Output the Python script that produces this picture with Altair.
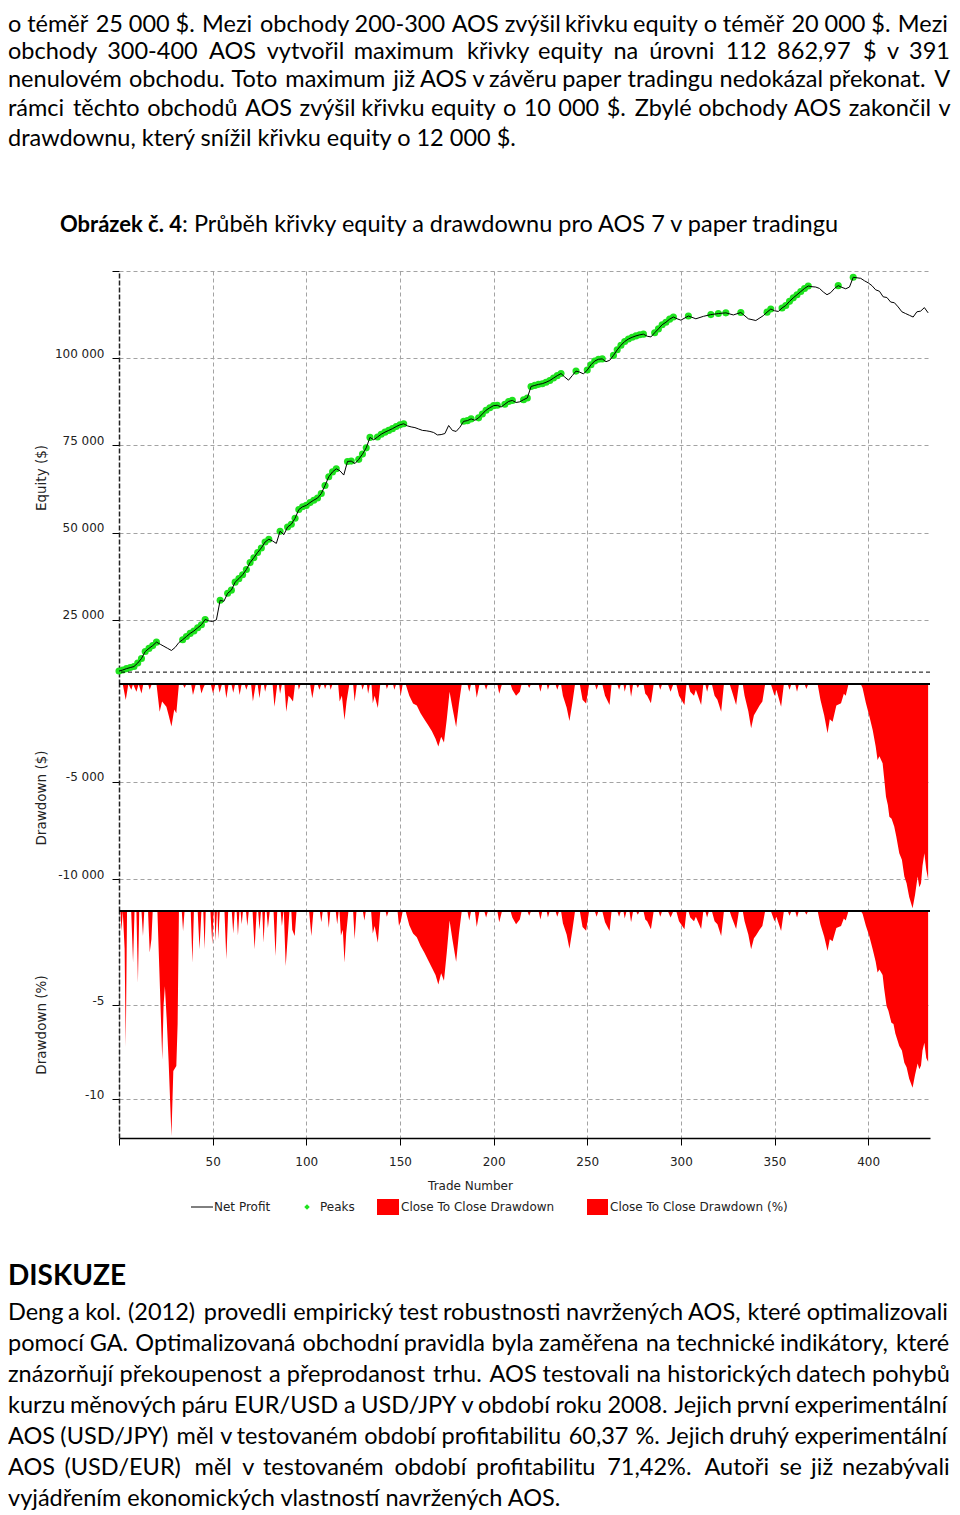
import unicodedata
import altair as alt
import pandas as pd

# ---------------- values ----------------
# equity (net profit incl. 10 000 $ start), (trade number, thousands of $)
equity_points = [
    (0, 10.3), (2, 10.6), (4, 11.0), (6, 11.3), (8, 11.6), (10, 12.6), (12, 13.9), (14, 15.9), (16, 16.8),
    (18, 17.6), (20, 18.6), (22, 18.0), (24, 17.4), (26, 16.8), (28, 16.2), (30, 17.1), (32, 18.5), (34, 19.3),
    (36, 20.2), (38, 21.1), (40, 21.8), (42, 22.7), (44, 23.6), (46, 25.1), (48, 24.7), (50, 24.5), (52, 25.0),
    (54, 30.6), (56, 30.3), (58, 32.6), (60, 33.5), (62, 35.8), (64, 36.8), (66, 37.9), (68, 39.4), (70, 41.4),
    (72, 42.8), (74, 44.3), (76, 45.6), (78, 47.3), (80, 48.1), (82, 47.6), (84, 46.9), (86, 50.4), (88, 49.4),
    (90, 51.6), (92, 52.4), (94, 54.1), (96, 56.6), (98, 57.4), (100, 57.8), (102, 58.6), (104, 59.3), (106, 59.9),
    (108, 61.2), (110, 63.5), (112, 66.0), (114, 67.4), (116, 68.3), (118, 67.7), (120, 66.5), (122, 70.4),
    (124, 70.5), (126, 69.8), (128, 71.0), (130, 72.5), (132, 74.3), (134, 77.3), (136, 76.6), (138, 77.4),
    (140, 78.2), (142, 78.8), (144, 79.3), (146, 79.8), (148, 80.4), (150, 80.9), (152, 81.2), (154, 80.6),
    (156, 80.3), (158, 80.1), (160, 79.7), (162, 79.3), (164, 79.2), (166, 79.0), (168, 78.7), (170, 78.0),
    (172, 78.1), (174, 78.4), (176, 80.7), (178, 79.3), (180, 79.0), (182, 80.2), (184, 81.9), (186, 82.1),
    (188, 82.6), (190, 82.2), (192, 82.9), (194, 84.0), (196, 85.1), (198, 85.8), (200, 86.4), (202, 86.5),
    (204, 86.0), (206, 86.8), (208, 87.6), (210, 87.9), (212, 87.3), (214, 87.5), (216, 88.1), (218, 88.6),
    (220, 91.9), (222, 92.2), (224, 92.5), (226, 92.7), (228, 93.1), (230, 93.6), (232, 94.3), (234, 95.0),
    (236, 95.6), (238, 94.6), (240, 93.7), (242, 95.0), (244, 96.3), (246, 96.0), (248, 95.5), (250, 96.6),
    (252, 98.1), (254, 99.2), (256, 99.7), (258, 99.8), (260, 99.0), (262, 99.4), (264, 100.8), (266, 102.4),
    (268, 103.7), (270, 104.8), (272, 105.5), (274, 106.0), (276, 106.4), (278, 106.7), (280, 106.9), (282, 106.3),
    (284, 106.1), (286, 107.3), (288, 108.4), (290, 109.6), (292, 110.3), (294, 111.2), (296, 111.8), (298, 111.3),
    (300, 110.9), (304, 112.1), (308, 111.3), (312, 112.0), (316, 112.5), (320, 112.8), (324, 113.0), (328, 112.4),
    (332, 113.1), (336, 111.3), (340, 110.8), (344, 112.2), (346, 113.2), (348, 114.1), (350, 113.6), (352, 113.4),
    (354, 114.4), (356, 115.1), (358, 116.3), (360, 117.3), (362, 118.2), (364, 119.1), (366, 120.0), (368, 120.7),
    (370, 120.5), (372, 120.4), (374, 120.0), (376, 119.0), (378, 118.2), (380, 118.8), (382, 120.0), (384, 120.8),
    (386, 120.3), (388, 119.9), (390, 120.4), (392, 123.2), (396, 122.9), (398, 122.2), (400, 121.6), (402, 120.8),
    (404, 119.6), (406, 119.2), (408, 117.6), (410, 117.4), (412, 116.1), (414, 115.9), (416, 114.7), (418, 113.3),
    (420, 112.8), (422, 112.3), (424, 111.8), (426, 113.3), (428, 113.5), (430, 114.5), (432, 113.0),
]

# close to close drawdown, (trade number, thousands of $)
drawdown_usd_points = [
    (0, 0), (2, 0), (3.6, -0.82), (5, 0), (6.6, -0.3), (7.5, 0), (9.3, -0.4), (10.5, 0), (12, -0.48), (13, 0),
    (15.5, 0), (16.4, -0.3), (17.5, 0), (20, 0), (21.7, -1.42), (23, -0.9), (25.3, -1.16), (26.5, -1.6), (28, -2.18),
    (29.5, -1.3), (30.6, -1.5), (32, 0), (34, 0), (35, -0.2), (36, 0), (38.5, 0), (39.5, -0.56), (41, 0), (43, 0),
    (44, -0.48), (45, -0.2), (46, 0), (49, 0), (50.2, -0.48), (51.5, 0), (52.8, 0), (53.7, -0.45), (55, 0), (56.3, 0),
    (57.3, -0.73), (58.5, 0), (60, 0), (61, -0.45), (62, 0), (63.5, 0), (64.4, -0.56), (65.5, 0), (67, 0), (68, -0.3),
    (69, 0), (70.5, 0), (71.5, -0.9), (73, 0), (74, 0), (75, -0.73), (76, 0), (77.3, 0), (78, -0.4), (79, 0), (82, 0),
    (83, -1.16), (84.5, 0), (85.3, 0), (86, -0.5), (87, 0), (88.3, 0), (89.3, -1.42), (90.5, -0.6), (91.5, -0.7),
    (92.9, -0.9), (94, 0), (95.5, 0), (96, -0.3), (97, 0), (102, 0), (103.2, -0.73), (104.5, 0), (106, 0), (107, -0.3),
    (108, 0), (109.3, 0), (110, -0.25), (111, 0), (112.3, 0), (113, -0.3), (114, 0), (117, 0), (117.8, -0.9),
    (119, -0.6), (120.4, -1.84), (121.5, -0.9), (123, 0), (125, 0), (125.8, -0.9), (127, 0), (129.3, 0), (130, -0.3),
    (131, 0), (132.3, 0), (133, -0.5), (134, 0), (134.8, 0), (135.5, -0.99), (136.5, -0.6), (138.2, -1.23), (139.5, 0),
    (142.3, 0), (143, -0.25), (144, 0), (146.3, 0), (147, -0.3), (148, 0), (149.6, 0), (150.4, -0.6), (151.5, 0),
    (153, 0), (155, -0.6), (157, -1.0), (159, -1.1), (161, -1.5), (163, -1.8), (165, -2.1), (167, -2.4), (169, -2.8),
    (170.5, -3.2), (172, -2.7), (173.5, -3.0), (175, -1.8), (176.5, -0.4), (178, -1.2), (180, -2.2), (181.5, -1.0),
    (183, 0), (186, 0), (187, -0.4), (188, 0), (190, 0), (191, -0.7), (192.5, 0), (195, 0), (196, -0.3), (197, 0),
    (202, 0), (203, -0.5), (204.5, 0), (209, 0), (210, -0.3), (212, -0.6), (214, -0.4), (215, 0), (218, 0),
    (219, -0.2), (220, 0), (224, 0), (225, -0.4), (226, 0), (228.3, 0), (229, -0.3), (230, 0), (233, 0), (234, -0.3),
    (235, 0), (236, 0), (237, -0.6), (239, -1.2), (240.5, -1.9), (242, -1.0), (243.5, 0), (246, 0), (247.5, -0.8),
    (249.4, -1.0), (251, 0), (254, 0), (255, -0.3), (256, 0), (258, 0), (259.5, -0.6), (261.9, -1.07), (263, 0),
    (266, 0), (267, -0.3), (268, 0), (269.3, 0), (270, -0.4), (271, 0), (272.5, 0), (273.4, -0.65), (274.5, 0),
    (276, 0), (277, -0.2), (278, 0), (280, 0), (281, -0.5), (282, -0.6), (284, -0.99), (285.5, 0), (288, 0),
    (289, -0.3), (290, 0), (293, 0), (294.5, -0.4), (296, 0), (297.5, 0), (299, -0.6), (301.9, -1.07), (303, 0),
    (304, 0), (305, -0.4), (307, -0.6), (308, -0.3), (310.8, -1.07), (312, 0), (313, 0), (314, -0.4), (315, 0),
    (316.5, 0), (318, -0.6), (319.5, -0.8), (321.5, -1.42), (323, 0), (326, 0), (327, -0.3), (329.5, -1.07), (331, 0),
    (333, 0), (334, -0.6), (336, -1.4), (337.5, -2.27), (339, -1.6), (340.1, -1.42), (342, -1.1), (343.5, -0.9),
    (345, 0), (348, 0), (350, -0.6), (351, -0.3), (353.5, -1.16), (355, 0), (357, 0), (358, -0.3), (359, 0), (361, 0),
    (362, -0.4), (363, 0), (366, 0), (367, -0.25), (368, 0), (373, 0), (374.5, -0.8), (376.5, -1.6), (378.3, -2.52),
    (379.5, -1.8), (381, -1.93), (383, -1.1), (385.5, -0.99), (387, -0.5), (388, -0.6), (389.5, 0), (396, 0),
    (397, -0.2), (398.8, -0.99), (400.5, -1.6), (402.4, -2.35), (404, -3.2), (405, -3.89), (406, -3.7), (407.7, -4.06),
    (408.5, -4.8), (409.5, -5.77), (410.5, -6.2), (411.3, -6.79), (412.5, -6.9), (413.9, -7.3), (415, -7.8),
    (416.6, -8.66), (418, -9.0), (419.3, -9.86), (420.5, -10.2), (421.9, -10.9), (423.7, -11.48), (425, -10.8),
    (426.4, -9.86), (427.3, -10.4), (428.2, -10.2), (429, -9.3), (430, -8.66), (431, -9.5), (432, -10.0),
]

# close to close drawdown in %, (trade number, %)
drawdown_pct_points = [
    (0, 0), (0.8, 0), (1.3, -1.06), (2, 0), (3, -2.0), (3.6, -7.25), (4.3, 0), (6.5, 0), (7.5, -2.74), (8.3, 0),
    (9.3, 0), (10.1, -3.8), (10.8, 0), (12, 0), (12.8, -1.33), (13.5, 0), (15.5, 0), (16.4, -2.2), (17.3, -1.5),
    (18, 0), (20.5, 0), (21.5, -3.0), (23.1, -7.88), (23.8, -5.0), (24.5, -4.0), (25.5, -5.8), (26.5, -8.0),
    (28, -11.95), (29, -8.5), (30.6, -8.23), (31.3, -6.0), (32, 0), (33.5, 0), (34.2, -1.06), (35, 0), (38.3, 0),
    (39.2, -2.74), (40, 0), (42, 0), (43, -2.03), (44, 0), (45, 0), (45.7, -2.03), (46.3, 0), (48.8, 0), (49.8, -1.77),
    (50.5, 0), (51, 0), (51.5, -1.6), (52.3, 0), (52.6, 0), (53, -1.5), (53.8, 0), (56.3, 0), (57.3, -2.56), (58.3, 0),
    (60.2, 0), (61, -1.2), (61.8, 0), (62.8, 0), (63.5, -1.3), (64.3, 0), (64.9, 0), (65.5, -0.7), (66.2, 0),
    (67.8, 0), (68.5, -0.8), (69.3, 0), (71.3, 0), (72.4, -2.03), (73.5, 0), (74.3, 0), (75, -1.0), (75.8, 0),
    (76.5, 0), (77.2, -1.68), (78, 0), (78.8, 0), (79.5, -0.9), (80.5, 0), (82.5, 0), (83.6, -2.39), (84.5, 0),
    (86.3, 0), (87, -0.8), (87.8, 0), (88, 0), (89, -2.92), (90, -1.5), (91, 0), (92, 0), (92.5, -1.0), (93.8, -1.33),
    (94.8, 0), (101.5, 0), (102.7, -1.33), (103.8, 0), (107.2, 0), (108, -0.6), (108.8, 0), (111.2, 0), (112, -0.9),
    (112.8, 0), (115.7, 0), (116.5, -0.7), (117.3, 0), (117.7, 0), (118.5, -1.3), (119.5, -1.0), (120.4, -2.74),
    (121.3, -1.2), (122.5, 0), (125, 0), (125.8, -1.5), (126.8, 0), (130.2, 0), (131, -0.5), (131.8, 0), (134.6, 0),
    (135.5, -1.2), (136.5, -0.8), (138.2, -1.68), (139.5, 0), (142.3, 0), (143, -0.3), (144, 0), (148.7, 0),
    (149.5, -0.8), (150.5, -0.5), (151.5, 0), (153, 0), (155, -0.75), (157, -1.2), (159, -1.4), (161, -1.85),
    (163, -2.2), (165, -2.6), (167, -3.0), (169, -3.4), (170.5, -3.9), (172, -3.3), (173.5, -3.7), (175, -2.2),
    (176.5, -0.5), (178, -1.5), (180, -2.7), (181.5, -1.2), (183, 0), (186, 0), (187, -0.5), (188, 0), (190, 0),
    (191, -0.85), (192.5, 0), (195, 0), (196, -0.35), (197, 0), (202, 0), (203, -0.6), (204.5, 0), (209, 0),
    (210, -0.35), (212, -0.7), (214, -0.45), (215, 0), (218, 0), (219, -0.25), (220, 0), (224, 0), (225, -0.45),
    (226, 0), (228.3, 0), (229, -0.35), (230, 0), (233, 0), (234, -0.3), (235, 0), (236, 0), (237, -0.65),
    (239, -1.25), (240.5, -2.0), (242, -1.05), (243.5, 0), (246, 0), (247.5, -0.85), (249.4, -1.05), (251, 0),
    (254, 0), (255, -0.3), (256, 0), (258, 0), (259.5, -0.6), (261.9, -1.06), (263, 0), (266, 0), (267, -0.3),
    (268, 0), (269.3, 0), (270, -0.4), (271, 0), (272.5, 0), (273.4, -0.6), (274.5, 0), (276, 0), (277, -0.2),
    (278, 0), (280, 0), (281, -0.45), (282, -0.55), (284, -0.97), (285.5, 0), (288, 0), (289, -0.3), (290, 0),
    (293, 0), (294.5, -0.35), (296, 0), (297.5, 0), (299, -0.55), (301.9, -0.97), (303, 0), (304, 0), (305, -0.35),
    (307, -0.55), (308, -0.3), (310.8, -0.95), (312, 0), (313, 0), (314, -0.35), (315, 0), (316.5, 0), (318, -0.55),
    (319.5, -0.7), (321.5, -1.33), (323, 0), (326, 0), (327, -0.3), (329.5, -0.95), (331, 0), (333, 0), (334, -0.55),
    (336, -1.25), (337.5, -2.03), (339, -1.45), (340.1, -1.3), (342, -1.0), (343.5, -0.8), (345, 0), (348, 0),
    (350, -0.55), (351, -0.3), (353.5, -1.06), (355, 0), (357, 0), (358, -0.25), (359, 0), (361, 0), (362, -0.35),
    (363, 0), (366, 0), (367, -0.2), (368, 0), (373, 0), (374.5, -0.7), (376.5, -1.35), (378.3, -2.12), (379.5, -1.5),
    (381, -1.6), (383, -0.9), (385.5, -0.8), (387, -0.4), (388, -0.5), (389.5, 0), (396, 0), (397, -0.15),
    (398.8, -0.8), (400.5, -1.3), (402.4, -2.03), (404, -2.7), (405, -3.27), (406, -3.1), (407.7, -3.4), (408.5, -4.1),
    (409.8, -5.04), (410.8, -5.3), (412.4, -5.93), (413.5, -6.0), (414.5, -6.5), (416.6, -7.17), (418, -7.4),
    (419.3, -8.05), (420.5, -8.3), (421.9, -8.9), (423.7, -9.38), (425, -8.7), (426.4, -8.1), (427.3, -8.4),
    (428.2, -8.2), (429, -7.4), (430, -7.0), (431, -7.8), (432, -8.0),
]

x_ticks = [0, 50, 100, 150, 200, 250, 300, 350, 400]
x_domain = [0, 433]
equity_ticks = [25000, 50000, 75000, 100000, 125000]
equity_domain = [6595, 125000]
dd_usd_ticks = [-10000, -5000]
dd_usd_domain = [-11620, 0]
dd_pct_ticks = [-10, -5]
dd_pct_domain = [-12.05, 0]
start_capital = [10000]
zero_line = [0]

legend_labels = ["Net Profit", "Peaks", "Close To Close Drawdown", "Close To Close Drawdown (%)"]

top_lines = [
    "o téměř 25 000 $. Mezi obchody 200-300 AOS zvýšil křivku equity o téměř 20 000 $. Mezi",
    "obchody 300-400 AOS vytvořil maximum křivky equity na úrovni 112 862,97 $ v 391",
    "nenulovém obchodu. Toto maximum již AOS v závěru paper tradingu nedokázal překonat. V",
    "rámci těchto obchodů AOS zvýšil křivku equity o 10 000 $. Zbylé obchody AOS zakončil v",
    "drawdownu, který snížil křivku equity o 12 000 $.",
]
caption_bold = "Obrázek č. 4"
caption_rest = ": Průběh křivky equity a drawdownu pro AOS 7 v paper tradingu"
heading = "DISKUZE"
bottom_lines = [
    "Deng a kol. (2012) provedli empirický test robustnosti navržených AOS, které optimalizovali",
    "pomocí GA. Optimalizovaná obchodní pravidla byla zaměřena na technické indikátory, které",
    "znázorňují překoupenost a přeprodanost trhu. AOS testovali na historických datech pohybů",
    "kurzu měnových páru EUR/USD a USD/JPY v období roku 2008. Jejich první experimentální",
    "AOS (USD/JPY) měl v testovaném období profitabilitu 60,37 %. Jejich druhý experimentální",
    "AOS (USD/EUR) měl v testovaném období profitabilitu 71,42%. Autoři se již nezabývali",
    "vyjádřením ekonomických vlastností navržených AOS.",
]

# ---------------- layout helpers ----------------
PLOT_X0 = 119      # page x of the plot area's left edge
PLOT_W = 811
TOP_Y0 = 8         # page y of the first view
BOT_Y0 = 1138      # page y of the last view
BODY_FONT = "Lato"
BODY_SIZE = 23.5
CHART_FONT = "DejaVu Sans"
GRID = "#a3a3a3"
GREEN = "#1ee31e"
RED = "#ff0000"

_CW = {' ': 226, 'a': 479, 'b': 525, 'c': 423, 'd': 525, 'e': 498, 'f': 305, 'g': 471, 'h': 525, 'i': 229,
       'j': 239, 'k': 455, 'l': 229, 'm': 799, 'n': 525, 'o': 527, 'p': 525, 'q': 525, 'r': 349, 's': 391,
       't': 335, 'u': 525, 'v': 452, 'w': 715, 'x': 433, 'y': 453, 'z': 395, 'A': 579, 'B': 544, 'C': 533,
       'D': 615, 'E': 488, 'F': 459, 'G': 631, 'H': 623, 'I': 252, 'J': 319, 'K': 520, 'L': 420, 'M': 855,
       'N': 646, 'O': 662, 'P': 517, 'Q': 673, 'R': 543, 'S': 459, 'T': 487, 'U': 642, 'V': 567, 'W': 890,
       'X': 519, 'Y': 487, 'Z': 468, '.': 280, ',': 280, '-': 370, '$': 540, '(': 315, ')': 315, '/': 420,
       '%': 760, ':': 290}


def _cw(ch):
    if ch.isdigit():
        return 540
    if ch in _CW:
        w = _CW[ch]
    else:
        w = _CW.get(unicodedata.normalize('NFD', ch)[0], 500)
    if ch.isupper():
        w *= 1.1
    return w


def word_width(word):
    return sum(_cw(c) for c in word) / 1000.0 * 25.3


def layout_lines(lines, ys, justified, left, right):
    rows = []
    for line, y, just in zip(lines, ys, justified):
        if not just:
            rows.append({'w': line, 'x': left, 'y': y})
            continue
        words = line.split()
        widths = [word_width(w) for w in words]
        gap = (right - left - sum(widths)) / (len(words) - 1)
        x = left
        for w, wd in zip(words, widths):
            rows.append({'w': w, 'x': x, 'y': y})
            x += wd + gap
    return pd.DataFrame(rows)


LEFT = 8 - PLOT_X0
RIGHT = 950 - PLOT_X0

top_df = layout_lines(top_lines, [py - TOP_Y0 for py in [25, 52, 80, 109, 139]],
                      [True, True, True, True, False], LEFT, RIGHT)
bot_df = layout_lines(bottom_lines, [py - BOT_Y0 for py in [1313, 1344, 1375, 1406, 1437, 1468, 1499]],
                      [True, True, True, True, True, True, False], LEFT, RIGHT)

ident_x = alt.X('x:Q', scale=None, axis=None)
ident_y = alt.Y('y:Q', scale=None, axis=None)


def text_layer(df, **kw):
    return alt.Chart(df).mark_text(align=kw.pop('align', 'left'), baseline='middle', **kw).encode(
        x=ident_x, y=ident_y, text='w:N')


# ---------------- top text view ----------------
cap_y = 225 - TOP_Y0
cap_join = 182 - PLOT_X0
# a white hairline at the very top keeps the page's upper edge fixed
top_anchor = alt.Chart(pd.DataFrame({'x': [LEFT + 1], 'x2': [LEFT + 3], 'y': [0.5]})).mark_rule(
    color='white', strokeWidth=1).encode(x=ident_x, x2='x2:Q', y=ident_y)
top_view = alt.layer(
    top_anchor,
    text_layer(top_df, font=BODY_FONT, fontSize=BODY_SIZE, color='black'),
    text_layer(pd.DataFrame({'w': [caption_bold], 'x': [cap_join], 'y': [cap_y]}), align='right',
               font=BODY_FONT, fontSize=22, fontWeight='bold', color='black'),
    text_layer(pd.DataFrame({'w': [caption_rest], 'x': [cap_join], 'y': [cap_y]}),
               font=BODY_FONT, fontSize=BODY_SIZE, color='black'),
).properties(width=PLOT_W, height=271 - TOP_Y0)

# ---------------- chart panels ----------------
xs = alt.Scale(domain=x_domain, nice=False, zero=False)
x_hidden = alt.Axis(values=x_ticks[1:], grid=True, gridDash=[4, 3], gridColor=GRID, labels=False,
                    ticks=False, domain=False, title=None)
x_bottom = alt.Axis(values=x_ticks, labelExpr="datum.value == 0 ? '' : datum.label", grid=True,
                    gridDash=[4, 3], gridColor=GRID, tickSize=7, tickColor='black', domainColor='black',
                    domainWidth=1.5, labelPadding=16, labelBaseline='middle', labelFlush=False,
                    labelOverlap=False, title='Trade Number', titleX=470 - PLOT_X0, titleY=1185 - BOT_Y0,
                    titleAlign='center', titleBaseline='middle', titleFontSize=12)


def y_axis(values, expr, title):
    return alt.Axis(values=values, labelExpr=expr, title=title, grid=True, gridDash=[4, 3], gridColor=GRID,
                    tickSize=7, tickColor='black', labelPadding=8, labelOffset=-5, labelOverlap=False,
                    labelFlush=False, minExtent=65, maxExtent=65, titlePadding=6, domainColor='#222',
                    domainWidth=1.5, domainDash=[5, 2])


eq_df = pd.DataFrame(equity_points, columns=['t', 'k'])
eq_df['eq'] = eq_df['k'] * 1000
ys1 = alt.Scale(domain=equity_domain, nice=False, zero=False)
ax1 = y_axis(equity_ticks, "datum.value >= 125000 ? '' : replace(format(datum.value, ','), ',', ' ')",
             'Equity ($)')
peaks = alt.Chart(eq_df).transform_window(
    runmax='max(eq)', frame=[None, 0], sort=[alt.SortField('t', order='ascending')]
).transform_filter('datum.eq >= datum.runmax').mark_point(
    shape='circle', filled=True, size=50, color=GREEN, opacity=1
).encode(x=alt.X('t:Q', scale=xs, axis=x_hidden), y=alt.Y('eq:Q', scale=ys1, axis=ax1))
eq_line = alt.Chart(eq_df).mark_line(color='black', strokeWidth=1).encode(
    x=alt.X('t:Q', scale=xs, axis=x_hidden), y=alt.Y('eq:Q', scale=ys1, axis=ax1))
cap_rule = alt.Chart(pd.DataFrame({'v': start_capital})).mark_rule(
    color='black', strokeDash=[4, 3], strokeWidth=1).encode(y=alt.Y('v:Q', scale=ys1, axis=ax1))
p1 = alt.layer(peaks, eq_line, cap_rule).properties(width=PLOT_W, height=684 - 271)

dd_df = pd.DataFrame(drawdown_usd_points, columns=['t', 'k'])
dd_df['dd'] = dd_df['k'] * 1000
ys2 = alt.Scale(domain=dd_usd_domain, nice=False, zero=False)
ax2 = y_axis(dd_usd_ticks, "'-' + replace(format(abs(datum.value), ','), ',', ' ')", 'Drawdown ($)')
area2 = alt.Chart(dd_df).mark_area(color=RED, opacity=1).encode(
    x=alt.X('t:Q', scale=xs, axis=x_hidden), y=alt.Y('dd:Q', scale=ys2, axis=ax2), y2=alt.datum(0))
zero2 = alt.Chart(pd.DataFrame({'v': zero_line})).mark_rule(color='black', strokeWidth=2).encode(
    y=alt.Y('v:Q', scale=ys2, axis=ax2))
p2 = alt.layer(area2, zero2).properties(width=PLOT_W, height=911 - 684)

pc_df = pd.DataFrame(drawdown_pct_points, columns=['t', 'pct'])
ys3 = alt.Scale(domain=dd_pct_domain, nice=False, zero=False)
ax3 = y_axis(dd_pct_ticks, "'-' + abs(datum.value)", 'Drawdown (%)')
area3 = alt.Chart(pc_df).mark_area(color=RED, opacity=1).encode(
    x=alt.X('t:Q', scale=xs, axis=x_bottom), y=alt.Y('pct:Q', scale=ys3, axis=ax3), y2=alt.datum(0))
zero3 = alt.Chart(pd.DataFrame({'v': zero_line})).mark_rule(color='black', strokeWidth=2).encode(
    y=alt.Y('v:Q', scale=ys3, axis=ax3))
p3 = alt.layer(area3, zero3).properties(width=PLOT_W, height=BOT_Y0 - 911)

# ---------------- legend + bottom text view ----------------
ly = 1207 - BOT_Y0
leg_line = alt.Chart(pd.DataFrame({'x': [191 - PLOT_X0], 'x2': [213 - PLOT_X0], 'y': [ly]})).mark_rule(
    color='black', strokeWidth=1).encode(x=ident_x, x2='x2:Q', y=ident_y)
leg_pt = alt.Chart(pd.DataFrame({'x': [307 - PLOT_X0], 'y': [ly]})).mark_point(
    shape='diamond', filled=True, size=30, color=GREEN, opacity=1).encode(x=ident_x, y=ident_y)
leg_rect = alt.Chart(pd.DataFrame({'x': [377 - PLOT_X0, 587 - PLOT_X0], 'x2': [399 - PLOT_X0, 608 - PLOT_X0],
                                   'y': [ly - 8, ly - 8], 'y2': [ly + 8, ly + 8]})).mark_rect(color=RED).encode(
    x=ident_x, x2='x2:Q', y=ident_y, y2='y2:Q')
leg_text = text_layer(pd.DataFrame({'w': legend_labels,
                                    'x': [x - PLOT_X0 for x in [214, 320, 401, 610]],
                                    'y': [ly] * 4}),
                      font=CHART_FONT, fontSize=12, color='#222')
head = text_layer(pd.DataFrame({'w': [heading], 'x': [LEFT], 'y': [1277 - BOT_Y0]}),
                  font=BODY_FONT, fontSize=28, fontWeight='bold', color='black')
body = text_layer(bot_df, font=BODY_FONT, fontSize=BODY_SIZE, color='black')
bottom_view = alt.layer(leg_line, leg_pt, leg_rect, leg_text, head, body).properties(
    width=PLOT_W, height=1500 - BOT_Y0)

chart = alt.vconcat(top_view, p1, p2, p3, bottom_view, spacing=0, bounds='flush', padding=0).configure_view(
    stroke=None).configure_axis(
    labelFont=CHART_FONT, labelFontSize=12, labelColor='#222', titleFont=CHART_FONT, titleFontSize=13.5,
    titleColor='#222', titleFontWeight='normal')

chart.save("out.html", embed_options={"renderer": "svg", "actions": False})
